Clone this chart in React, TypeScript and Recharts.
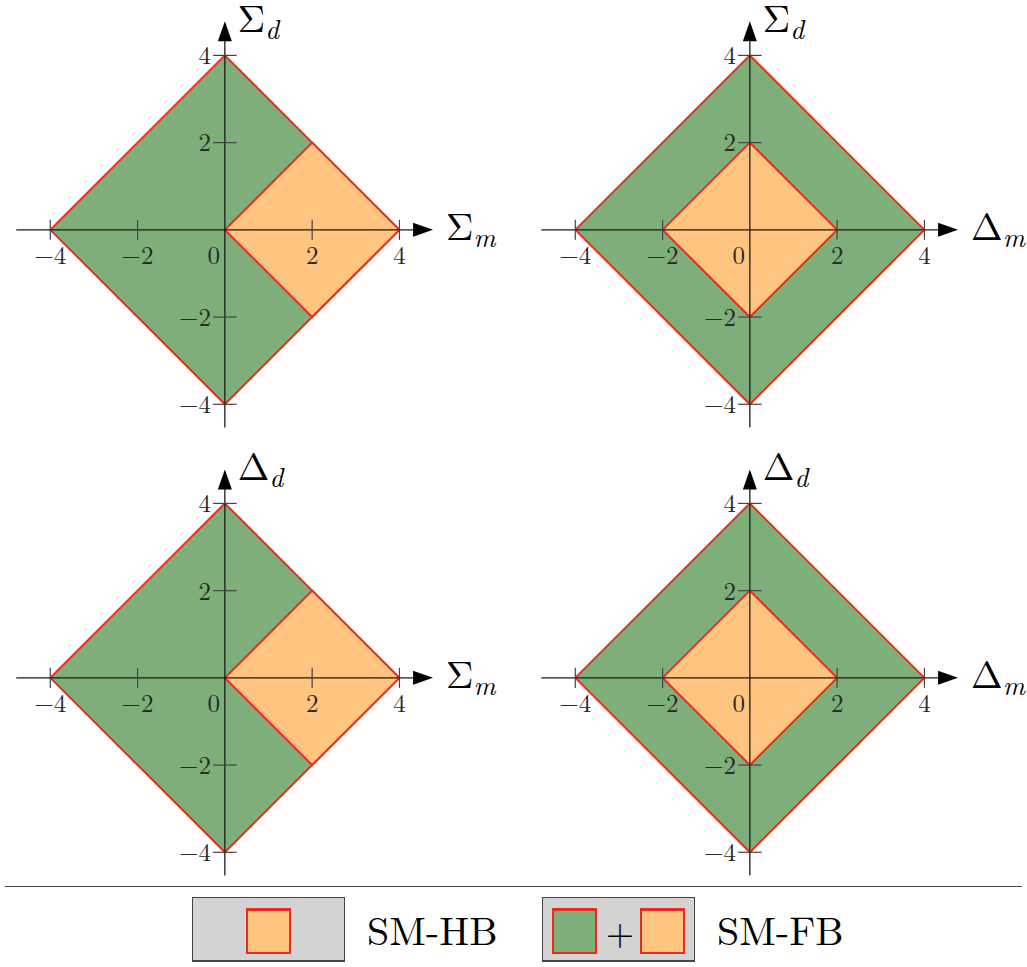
import {
  Area,
  ComposedChart,
  ReferenceDot,
  ReferenceLine,
  XAxis,
  YAxis,
} from "recharts";

// region boundaries, sampled at the x positions where an edge turns
const xPoints = [-4, -2, 0, 2, 4];
// |m| + |d| <= 4 as [low, high] per x
const fullBand: (number | null)[][] = [[0, 0], [-2, 2], [-4, 4], [-2, 2], [0, 0]];
// square 0..4 on the positive side (left panels)
const halfSquare: (number | null)[][] = [[null, null], [null, null], [0, 0], [-2, 2], [0, 0]];
// |m| + |d| <= 2 (right panels)
const halfDiamond: (number | null)[][] = [[null, null], [0, 0], [-2, 2], [0, 0], [null, null]];

const xTicks = [-4, -2, 2, 4];
const yTicks = [4, 2, -2, -4];

const GREEN = "#7eaf7b";
const ORANGE = "#ffc47f";
const RED = "#ec2a20";
const FONT = "'Latin Modern Roman', 'Liberation Serif', serif";

const UNIT = 43.6;
const X_MIN = -4.9;
const X_MAX = 6.35;
const Y_MIN = -4.75;
const W = Math.round((X_MAX - X_MIN) * UNIT);

const tickText = (v: number) => (v < 0 ? `\u2212${-v}` : `${v}`);

const panels = [
  { ox: 224.5, oy: 230, yMax: 5.27, inner: halfSquare, xName: ["\u03A3", "m"], yName: ["\u03A3", "d"] },
  { ox: 749.5, oy: 230, yMax: 5.27, inner: halfDiamond, xName: ["\u0394", "m"], yName: ["\u03A3", "d"] },
  { ox: 224.5, oy: 678, yMax: 5.5, inner: halfSquare, xName: ["\u03A3", "m"], yName: ["\u0394", "d"] },
  { ox: 749.5, oy: 678, yMax: 5.5, inner: halfDiamond, xName: ["\u0394", "m"], yName: ["\u0394", "d"] },
];

function axisName(main: string, sub: string, dy: number) {
  return (props: any) => {
    const vb = props.viewBox ?? { x: 0, y: 0 };
    return (
      <text x={vb.x + 13} y={vb.y + dy} fontFamily={FONT} fontSize={38} fill="#000">
        {main}
        <tspan fontSize={27} fontStyle="italic" dy={7}>
          {sub}
        </tspan>
      </text>
    );
  };
}

function originLabel(props: any) {
  const vb = props.viewBox ?? { x: 0, y: 0 };
  return (
    <text x={vb.x - 11} y={vb.y + 34} textAnchor="middle" fontFamily={FONT} fontSize={25} fill="#2a2a2a">
      0
    </text>
  );
}

const arrowRight = (p: any) => (
  <polygon points={`${p.cx},${p.cy} ${p.cx - 20},${p.cy - 7} ${p.cx - 20},${p.cy + 7}`} fill="#000" />
);
const arrowUp = (p: any) => (
  <polygon points={`${p.cx},${p.cy} ${p.cx - 7},${p.cy + 20} ${p.cx + 7},${p.cy + 20}`} fill="#000" />
);

function Panel({
  yMax,
  inner,
  xName,
  yName,
}: {
  yMax: number;
  inner: (number | null)[][];
  xName: string[];
  yName: string[];
}) {
  const data = xPoints.map((x, i) => ({ x, outer: fullBand[i], inner: inner[i] }));
  const height = Math.round((yMax - Y_MIN) * UNIT);
  return (
    <ComposedChart
      width={W}
      height={height}
      data={data}
      margin={{ top: 0, right: 0, bottom: 0, left: 0 }}
      style={{ overflow: "visible" }}
    >
      <XAxis type="number" dataKey="x" domain={[X_MIN, X_MAX]} hide allowDataOverflow />
      <YAxis type="number" domain={[Y_MIN, yMax]} hide allowDataOverflow />
      <Area
        type="linear"
        dataKey="outer"
        fill={GREEN}
        fillOpacity={1}
        stroke={RED}
        strokeWidth={2}
        dot={false}
        activeDot={false}
        isAnimationActive={false}
      />
      <Area
        type="linear"
        dataKey="inner"
        fill={ORANGE}
        fillOpacity={1}
        stroke={RED}
        strokeWidth={2}
        dot={false}
        activeDot={false}
        isAnimationActive={false}
      />
      <ReferenceLine segment={[{ x: -4.78, y: 0 }, { x: 4.6, y: 0 }]} stroke="#1a1a1a" strokeWidth={1.3} />
      <ReferenceLine segment={[{ x: 0, y: -4.53 }, { x: 0, y: 4.6 }]} stroke="#1a1a1a" strokeWidth={1.3} />
      {xTicks.map((t) => (
        <ReferenceLine
          key={`xt${t}`}
          segment={[{ x: t, y: -0.23 }, { x: t, y: 0.23 }]}
          stroke="#444"
          strokeWidth={1.2}
          label={{ value: tickText(t), position: "bottom", offset: 6, fontSize: 25, fontFamily: FONT, fill: "#2a2a2a" }}
        />
      ))}
      {yTicks.map((t) => (
        <ReferenceLine
          key={`yt${t}`}
          segment={[{ x: -0.27, y: t }, { x: 0.27, y: t }]}
          stroke="#444"
          strokeWidth={1.2}
          label={{ value: tickText(t), position: "left", offset: 2, fontSize: 25, fontFamily: FONT, fill: "#2a2a2a" }}
        />
      ))}
      <ReferenceDot x={0} y={0} r={0} stroke="none" fill="none" label={originLabel} />
      <ReferenceDot x={4.77} y={0} r={0} shape={arrowRight} label={axisName(xName[0], xName[1], 10)} />
      <ReferenceDot x={0} y={4.78} r={0} shape={arrowUp} label={axisName(yName[0], yName[1], 11)} />
    </ComposedChart>
  );
}

const swatch = (left: number, color: string) => (
  <div
    style={{
      position: "absolute",
      left,
      top: 908,
      width: 41,
      height: 41,
      background: color,
      border: `2px solid ${RED}`,
      borderTopWidth: 3,
    }}
  />
);

const legendBox = (left: number) => (
  <div
    style={{
      position: "absolute",
      left,
      top: 897,
      width: 151,
      height: 62,
      background: "#d3d3d3",
      border: "1.5px solid #444",
      borderBottomWidth: 2.5,
    }}
  />
);

const legendText = (left: number, text: string) => (
  <div style={{ position: "absolute", left, top: 909, fontFamily: FONT, fontSize: 40, lineHeight: "40px", color: "#000" }}>
    {text}
  </div>
);

export default function App() {
  return (
    <div style={{ position: "absolute", left: 0, top: 0, width: 1027, height: 967, background: "#fff" }}>
      {panels.map((p, i) => (
        <div
          key={i}
          style={{
            position: "absolute",
            left: Math.round(p.ox + X_MIN * UNIT),
            top: Math.round(p.oy - p.yMax * UNIT),
          }}
        >
          <Panel yMax={p.yMax} inner={p.inner} xName={p.xName} yName={p.yName} />
        </div>
      ))}
      <div style={{ position: "absolute", left: 5, top: 886, width: 1017, borderTop: "1.5px solid #444" }} />
      {legendBox(192)}
      {swatch(246, ORANGE)}
      {legendText(367, "SM-HB")}
      {legendBox(542)}
      {swatch(552, GREEN)}
      <div style={{ position: "absolute", left: 606, top: 912, fontFamily: FONT, fontSize: 36, lineHeight: "36px" }}>+</div>
      {swatch(640, ORANGE)}
      {legendText(717, "SM-FB")}
    </div>
  );
}
